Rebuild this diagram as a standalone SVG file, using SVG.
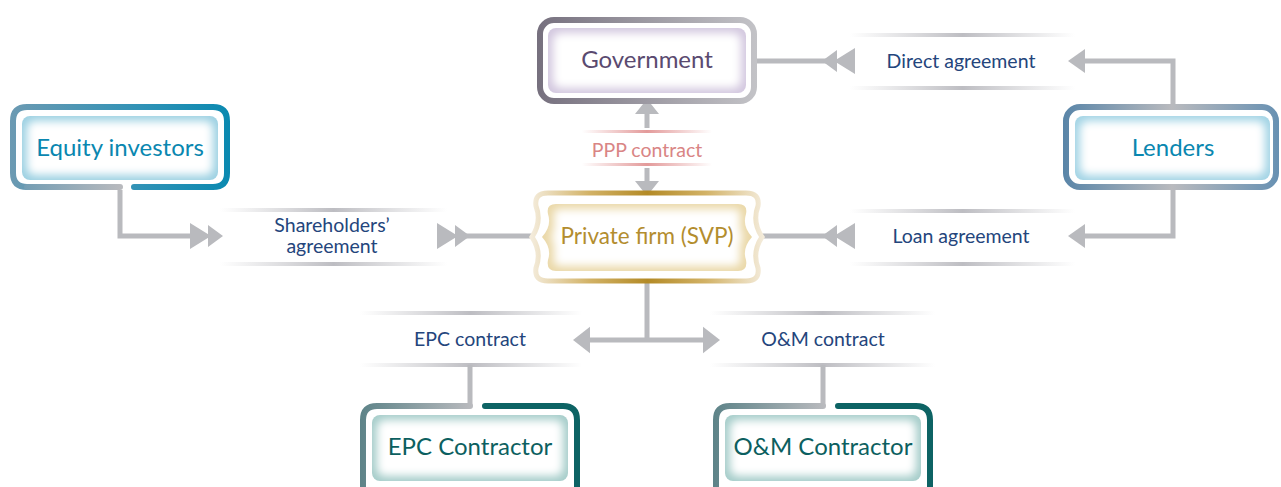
<svg xmlns="http://www.w3.org/2000/svg" width="1281" height="487" viewBox="0 0 1281 487">
<style>
.conn{fill:none;stroke:#b9babe;stroke-width:5;stroke-linejoin:miter}
.head{fill:#b9babe}
.frame{fill:none;stroke-width:6;stroke-linecap:round;stroke-linejoin:round}
.glow{fill:#fff;filter:url(#shrink)}
.node{font-family:Lato,"Open Sans","Liberation Sans",sans-serif;font-size:24px;text-anchor:middle}
.lbl{font-family:Lato,"Open Sans","Liberation Sans",sans-serif;font-size:19.5px;text-anchor:middle;fill:#24457c}
.band{fill:url(#bandG)}
</style>
<defs>
<filter id="shrink" x="-10%" y="-20%" width="120%" height="140%"><feMorphology operator="erode" radius="5"/><feGaussianBlur stdDeviation="4"/></filter>
<linearGradient id="bandG" x1="0" x2="1" y1="0" y2="0"><stop offset="0" stop-color="#c4c4c8" stop-opacity="0"/><stop offset="0.5" stop-color="#bdbdc2"/><stop offset="1" stop-color="#c4c4c8" stop-opacity="0"/></linearGradient>
<linearGradient id="pinkG" x1="0" x2="1" y1="0" y2="0"><stop offset="0" stop-color="#e39a9a" stop-opacity="0"/><stop offset="0.5" stop-color="#e39a9a"/><stop offset="1" stop-color="#e39a9a" stop-opacity="0"/></linearGradient>
<linearGradient id="govF" gradientUnits="userSpaceOnUse" x1="537" x2="757" y1="0" y2="0"><stop offset="0" stop-color="#76707e"/><stop offset="1" stop-color="#c3c3c7"/></linearGradient>
<linearGradient id="eqF" gradientUnits="userSpaceOnUse" x1="10" x2="230" y1="0" y2="0"><stop offset="0" stop-color="#6c9ab2"/><stop offset="0.6" stop-color="#2f92b6"/><stop offset="1" stop-color="#0a89b0"/></linearGradient>
<linearGradient id="eqB" gradientUnits="userSpaceOnUse" x1="13" x2="122" y1="0" y2="0"><stop offset="0" stop-color="#6c9ab2"/><stop offset="1" stop-color="#b9babe"/></linearGradient>
<linearGradient id="lenF" gradientUnits="userSpaceOnUse" x1="1063" x2="1281" y1="0" y2="0"><stop offset="0" stop-color="#5985a8"/><stop offset="0.5" stop-color="#b9babe"/><stop offset="1" stop-color="#6690b2"/></linearGradient>
<linearGradient id="conL" gradientUnits="userSpaceOnUse" x1="360" x2="472" y1="0" y2="0"><stop offset="0" stop-color="#5d8388"/><stop offset="1" stop-color="#b9babe"/></linearGradient>
<linearGradient id="conR" gradientUnits="userSpaceOnUse" x1="713" x2="825" y1="0" y2="0"><stop offset="0" stop-color="#5d8388"/><stop offset="1" stop-color="#b9babe"/></linearGradient>
<linearGradient id="svpF" gradientUnits="userSpaceOnUse" x1="531" x2="764" y1="0" y2="0"><stop offset="0" stop-color="#f4ecdc"/><stop offset="0.25" stop-color="#d2b266"/><stop offset="0.5" stop-color="#b38a26"/><stop offset="0.75" stop-color="#d2b266"/><stop offset="1" stop-color="#f4ecdc"/></linearGradient>
<path id="dbl" d="M0,0 L15,-11 L15,11 Z M12,0 L33,-13 L33,13 Z"/>
<path id="sgl" d="M0,0 L17,-12 L17,12 Z"/>
</defs>

<g id="labels">
<rect class="band" x="850" y="33" width="225" height="4"/>
<rect class="band" x="850" y="86" width="225" height="4"/>
<text class="lbl" x="961" y="68">Direct agreement</text>
<rect class="band" x="850" y="209" width="225" height="4"/>
<rect class="band" x="850" y="262" width="225" height="4"/>
<text class="lbl" x="961" y="243">Loan agreement</text>
<rect class="band" x="220" y="208" width="227" height="4"/>
<rect class="band" x="220" y="262" width="227" height="4"/>
<text class="lbl" x="332" y="232">Shareholders’</text>
<text class="lbl" x="332" y="253">agreement</text>
<rect class="band" x="360" y="311" width="222" height="4"/>
<rect class="band" x="360" y="363" width="222" height="4"/>
<text class="lbl" x="470" y="346">EPC contract</text>
<rect class="band" x="710" y="311" width="225" height="4"/>
<rect class="band" x="710" y="363" width="225" height="4"/>
<text class="lbl" x="823" y="346">O&amp;M contract</text>
<rect fill="url(#pinkG)" x="582" y="130" width="130" height="3"/>
<rect fill="url(#pinkG)" x="582" y="163" width="130" height="3"/>
<text class="lbl" x="647" y="157" style="fill:#d98585;font-size:19.5px">PPP contract</text>
</g>

<g id="connectors">
<path class="conn" d="M647,112 V128 M647,168 V182"/>
<path class="head" d="M647,99 L659,114 L635,114 Z M647,196 L659,181 L635,181 Z"/>
<path class="conn" d="M757,61 H830"/>
<use href="#dbl" class="head" transform="translate(822,61)"/>
<path class="conn" d="M1083,61 H1173 V104"/>
<use href="#sgl" class="head" transform="translate(1068,61)"/>
<path class="conn" d="M758,236 H830"/>
<use href="#dbl" class="head" transform="translate(822,236)"/>
<path class="conn" d="M1083,236 H1173 V190"/>
<use href="#sgl" class="head" transform="translate(1068,236)"/>
<path class="conn" d="M120,190 V236 H200"/>
<use href="#dbl" class="head" transform="translate(223,236) scale(-1,1)"/>
<path class="conn" d="M460,236 H536"/>
<use href="#dbl" class="head" transform="translate(470,236) scale(-1,1)"/>
<path class="conn" d="M647,283 V340 M588,340 H706"/>
<use href="#sgl" class="head" transform="translate(573,340) scale(1,1.1)"/>
<use href="#sgl" class="head" transform="translate(720,340) scale(-1,1.1)"/>
<path class="conn" d="M470,365 V406 M823,365 V406"/>
</g>

<g id="government">
<rect x="540" y="20" width="214" height="81" rx="14" class="frame" stroke="url(#govF)"/>
<rect x="548" y="28" width="198" height="65" rx="8" fill="#d3c8df"/>
<rect x="548" y="28" width="198" height="65" rx="8" class="glow"/>
<text class="node" x="647" y="68" fill="#5a4a70">Government</text>
</g>

<g id="equity">
<path class="frame" stroke="url(#eqF)" d="M134,187 H213 Q227,187 227,173 V121 Q227,107 213,107 H27 Q13,107 13,121 V173 Q13,187 27,187"/>
<path class="frame" stroke="url(#eqB)" d="M27,187 H120"/>
<rect x="22" y="116" width="196" height="64" rx="8" fill="#9dd1e2"/>
<rect x="22" y="116" width="196" height="64" rx="8" class="glow"/>
<text class="node" x="120" y="156" fill="#0a87b0">Equity investors</text>
</g>

<g id="lenders">
<rect x="1066" y="107" width="210" height="80" rx="14" class="frame" stroke="url(#lenF)"/>
<rect x="1075" y="116" width="195" height="64" rx="8" fill="#a3d4e5"/>
<rect x="1075" y="116" width="195" height="64" rx="8" class="glow"/>
<text class="node" x="1173" y="156" fill="#0a87b0">Lenders</text>
</g>

<g id="svp">
<path fill="#fff" stroke="url(#svpF)" stroke-width="5" d="M548,193 H746 Q760,193 758,206 Q752,222 762,237 Q752,252 758,268 Q760,281 746,281 H548 Q534,281 536,268 Q542,252 532,237 Q542,222 536,206 Q534,193 548,193 Z"/>
<path fill="#ead8a8" d="M556,204 H738 Q748,204 746,214 Q742,226 752,237 Q742,248 746,260 Q748,271 738,271 H556 Q546,271 548,260 Q552,248 542,237 Q552,226 548,214 Q546,204 556,204 Z"/>
<path class="glow" d="M556,204 H738 Q748,204 746,214 Q742,226 752,237 Q742,248 746,260 Q748,271 738,271 H556 Q546,271 548,260 Q552,248 542,237 Q552,226 548,214 Q546,204 556,204 Z"/>
<text class="node" x="647" y="244" fill="#b38d2e" style="font-size:22.5px">Private firm (SVP)</text>
</g>

<g id="epc">
<path class="frame" stroke="#0d6364" d="M485,406 H563 Q577,406 577,420 V490"/>
<path class="frame" stroke="url(#conL)" d="M470,406 H377 Q363,406 363,420 V490"/>
<rect x="372" y="415" width="196" height="66" rx="8" fill="#a6cdca"/>
<rect x="372" y="415" width="196" height="66" rx="8" class="glow"/>
<text class="node" x="470" y="455" fill="#0c5f60">EPC Contractor</text>
</g>

<g id="om">
<path class="frame" stroke="#0d6364" d="M838,406 H916 Q930,406 930,420 V490"/>
<path class="frame" stroke="url(#conR)" d="M823,406 H730 Q716,406 716,420 V490"/>
<rect x="725" y="415" width="196" height="66" rx="8" fill="#a6cdca"/>
<rect x="725" y="415" width="196" height="66" rx="8" class="glow"/>
<text class="node" x="823" y="455" fill="#0c5f60">O&amp;M Contractor</text>
</g>
</svg>
